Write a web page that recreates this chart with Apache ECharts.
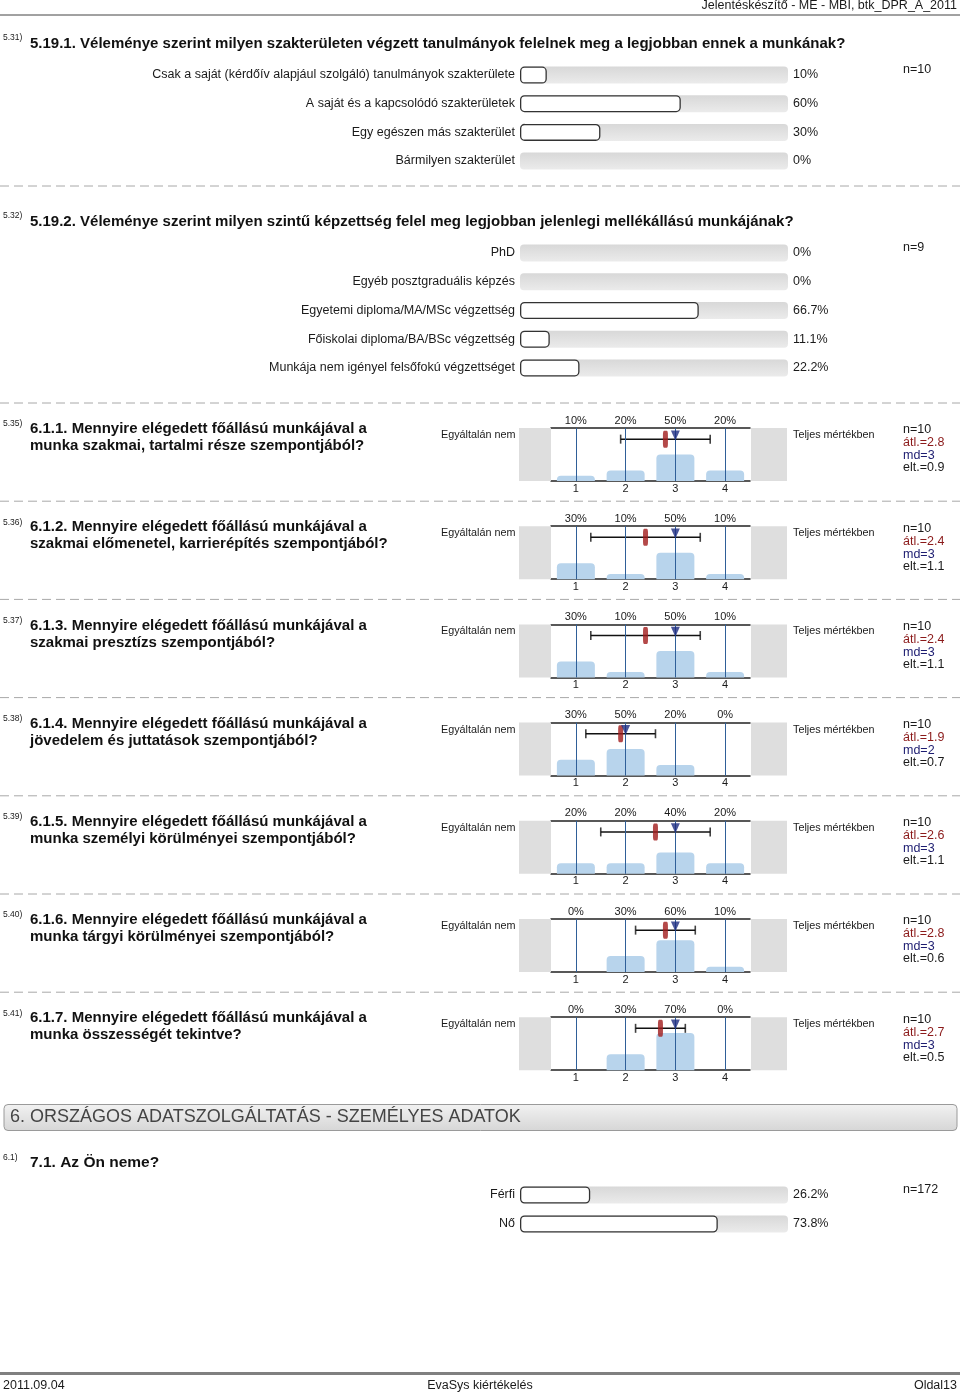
<!DOCTYPE html>
<html><head><meta charset="utf-8">
<script src="https://cdn.jsdelivr.net/npm/echarts@6/dist/echarts.min.js"></script>
<style>html,body{margin:0;padding:0;background:#fff}#c{width:960px;height:1395px}</style>
</head><body><div id="c"></div>
<script>
// ---------- DATA ----------
const q531Cats = ['Csak a saját (kérdőív alapjául szolgáló) tanulmányok szakterülete','A saját és a kapcsolódó szakterületek','Egy egészen más szakterület','Bármilyen szakterület'];
const q531Vals = [10, 60, 30, 0];
const q531N = 'n=10';
const q532Cats = ['PhD','Egyéb posztgraduális képzés','Egyetemi diploma/MA/MSc végzettség','Főiskolai diploma/BA/BSc végzettség','Munkája nem igényel felsőfokú végzettséget'];
const q532Vals = [0, 0, 66.7, 11.1, 22.2];
const q532N = 'n=9';
const q71Cats = ['Férfi','Nő'];
const q71Vals = [26.2, 73.8];
const q71N = 'n=172';

const histScale = ['1','2','3','4'];
const histIds = ['5.35)','5.36)','5.37)','5.38)','5.39)','5.40)','5.41)'];
const histTitles = [
  ['6.1.1. Mennyire elégedett főállású munkájával a','munka szakmai, tartalmi része szempontjából?'],
  ['6.1.2. Mennyire elégedett főállású munkájával a','szakmai előmenetel, karrierépítés szempontjából?'],
  ['6.1.3. Mennyire elégedett főállású munkájával a','szakmai presztízs szempontjából?'],
  ['6.1.4. Mennyire elégedett főállású munkájával a','jövedelem és juttatások szempontjából?'],
  ['6.1.5. Mennyire elégedett főállású munkájával a','munka személyi körülményei szempontjából?'],
  ['6.1.6. Mennyire elégedett főállású munkájával a','munka tárgyi körülményei szempontjából?'],
  ['6.1.7. Mennyire elégedett főállású munkájával a','munka összességét tekintve?']
];
const histVals = [
  [10,20,50,20],
  [30,10,50,10],
  [30,10,50,10],
  [30,50,20,0],
  [20,20,40,20],
  [0,30,60,10],
  [0,30,70,0]
];
const histN = [10,10,10,10,10,10,10];
const histMean = [2.8,2.4,2.4,1.9,2.6,2.8,2.7];
const histMedian = [3,3,3,2,3,3,3];
const histSd = [0.9,1.1,1.1,0.7,1.1,0.6,0.5];
const histLeftLabel = 'Egyáltalán nem';
const histRightLabel = 'Teljes mértékben';

// ---------- BUILD ----------
const FONT = '"Liberation Sans", Arial, Helvetica, sans-serif';
const NARROW = '"Liberation Sans Narrow", "Arial Narrow", "Liberation Sans", sans-serif';
const grids = [], xAxes = [], yAxes = [], series = [], graphics = [];

function txt(x, y, s, size, opt) {
  opt = opt || {};
  const al = opt.align || 'left';
  graphics.push({type: 'text', x: x, y: y, silent: true, z: 10, style: {
    text: s, fontSize: size, fontFamily: opt.family || FONT, fontWeight: opt.weight || 'normal',
    fill: opt.fill || '#1a1a1a',
    textAlign: al, align: al, textVerticalAlign: 'middle', verticalAlign: 'middle'
  }});
}
function hline(x1, x2, y, color, w, dash) {
  graphics.push({type: 'line', silent: true, z: 5, shape: {x1: x1, y1: y, x2: x2, y2: y},
    style: {stroke: color, lineWidth: w, lineDash: dash || null}});
}
function rect(x, y, w, h, fill, r, stroke) {
  graphics.push({type: 'rect', silent: true, z: 1, shape: {x: x, y: y, width: w, height: h, r: r || 0},
    style: {fill: fill, stroke: stroke || null, lineWidth: stroke ? 1 : 0}});
}
function pct(v) { return v + '%'; }

function barBlock(cats, vals, top, rowH) {
  const gi = grids.length;
  grids.push({left: 520, width: 268, top: top, height: rowH * cats.length});
  const xi = xAxes.length;
  xAxes.push({gridIndex: gi, type: 'value', min: 0, max: 100, show: false});
  const yi = yAxes.length;
  const lab = {fontSize: 12.5, color: '#1a1a1a', margin: 5, fontFamily: FONT};
  yAxes.push({gridIndex: gi, type: 'category', inverse: true, data: cats,
    axisLine: {show: false}, axisTick: {show: false}, axisLabel: lab});
  yAxes.push({gridIndex: gi, type: 'category', inverse: true, position: 'right', data: vals.map(pct),
    axisLine: {show: false}, axisTick: {show: false}, axisLabel: Object.assign({}, lab, {margin: 5})});
  series.push({type: 'bar', xAxisIndex: xi, yAxisIndex: yi, barWidth: 17, silent: true, animation: false,
    data: vals.map(v => ({value: v, itemStyle: v === 0 ? {opacity: 0} : {}})),
    itemStyle: {color: '#ffffff', borderColor: '#333', borderWidth: 1.3, borderRadius: 4},
    showBackground: true,
    backgroundStyle: {color: {type: 'linear', x: 0, y: 0, x2: 0, y2: 1, colorStops: [{offset: 0, color: '#d8d8d8'}, {offset: 1, color: '#ebebeb'}]}, borderRadius: 4}
  });
}

function histBlock(k) {
  const off = k * 98.2;
  const top = 428 + off;
  const gi = grids.length;
  grids.push({left: 551, width: 199, top: top, height: 53});
  const xb = xAxes.length;
  const axLine = {lineStyle: {color: '#222', width: 1.5}};
  xAxes.push({gridIndex: gi, type: 'category', data: histScale, position: 'bottom',
    axisLine: axLine, axisTick: {show: false}, axisLabel: {fontSize: 11, color: '#1a1a1a', margin: 2, fontFamily: FONT}});
  xAxes.push({gridIndex: gi, type: 'category', data: histVals[k].map(pct), position: 'top',
    axisLine: axLine, axisTick: {show: false}, axisLabel: {fontSize: 11, color: '#1a1a1a', margin: 2, fontFamily: FONT}});
  xAxes.push({gridIndex: gi, type: 'value', min: 0.5, max: 4.5, show: false});
  const yi = yAxes.length;
  yAxes.push({gridIndex: gi, type: 'value', min: 0, max: 100, show: false});
  series.push({type: 'bar', xAxisIndex: xb, yAxisIndex: yi, barWidth: 38, silent: true, animation: false, z: 2,
    data: histVals[k], itemStyle: {color: '#b8d4ec', borderRadius: [4, 4, 0, 0]}});
  const m = histMean[k], sd = histSd[k];
  const ov = {xAxisIndex: xb + 2, yAxisIndex: yi, silent: true, animation: false};
  // vertical guide lines at each scale point
  series.push(Object.assign({type: 'scatter', z: 3, data: [], symbolSize: 0,
    markLine: {silent: true, animation: false, symbol: ['none', 'none'], label: {show: false},
      lineStyle: {color: '#2f5f98', width: 1, type: 'solid'},
      data: histScale.map(s => ({xAxis: Number(s)}))}}, ov));
  series.push(Object.assign({type: 'line', z: 4, symbol: 'none', data: [[m - sd, 79], [m + sd, 79]],
    lineStyle: {color: '#111', width: 1.5}}, ov));
  series.push(Object.assign({type: 'scatter', z: 4, symbol: 'rect', symbolSize: [1.6, 9],
    itemStyle: {color: '#111'}, data: [[m - sd, 79], [m + sd, 79]]}, ov));
  series.push(Object.assign({type: 'scatter', z: 5, symbol: 'roundRect', symbolSize: [5, 17],
    itemStyle: {color: '#a11c1c'}, data: [[m, 79]]}, ov));
  series.push(Object.assign({type: 'scatter', z: 6, symbol: 'triangle', symbolRotate: 180, symbolSize: [9, 10],
    itemStyle: {color: '#1c2a80'}, data: [[histMedian[k], 86]]}, ov));

  // decorations
  hline(0, 960, 403 + off, '#a8a8a8', 1, [9, 5]);
  txt(3, 424 + off, histIds[k], 8.5);
  txt(30, 429 + off, histTitles[k][0], 15, {weight: 'bold', fill: '#111'});
  txt(30, 446 + off, histTitles[k][1], 15, {weight: 'bold', fill: '#111'});
  txt(441, 435 + off, histLeftLabel, 10.8);
  rect(519, top, 32, 53, '#dedede');
  rect(751, top, 36, 53, '#dedede');
  txt(793, 435 + off, histRightLabel, 10.8);
  txt(903, 430 + off, 'n=' + histN[k], 12.5);
  txt(903, 443 + off, 'átl.=' + histMean[k], 12.5, {fill: '#8b1a1a'});
  txt(903, 456 + off, 'md=' + histMedian[k], 12.5, {fill: '#1c1c70'});
  txt(903, 468 + off, 'elt.=' + histSd[k], 12.5);
}

// header
txt(957, 6, 'Jelentéskészítő - ME - MBI, btk_DPR_A_2011', 12.5, {align: 'right'});
hline(0, 960, 15, '#444', 1);

// 5.31
txt(3, 38, '5.31)', 8.5);
txt(30, 44, '5.19.1. Véleménye szerint milyen szakterületen végzett tanulmányok felelnek meg a legjobban ennek a munkának?', 15, {weight: 'bold', fill: '#111'});
barBlock(q531Cats, q531Vals, 60.7, 28.67);
txt(903, 70, q531N, 12.5);
hline(0, 960, 186, '#a8a8a8', 1, [9, 5]);

// 5.32
txt(3, 216, '5.32)', 8.5);
txt(30, 222, '5.19.2. Véleménye szerint milyen szintű képzettség felel meg legjobban jelenlegi mellékállású munkájának?', 15, {weight: 'bold', fill: '#111'});
barBlock(q532Cats, q532Vals, 238.6, 28.75);
txt(903, 248, q532N, 12.5);

// histogram blocks
for (let k = 0; k < histVals.length; k++) histBlock(k);

// section 6 header
graphics.push({type: 'rect', silent: true, z: 1, shape: {x: 4, y: 1104.5, width: 953, height: 26, r: 4},
  style: {fill: {type: 'linear', x: 0, y: 0, x2: 0, y2: 1, colorStops: [{offset: 0, color: '#f2f2f2'}, {offset: 1, color: '#d6d6d6'}]}, stroke: '#9a9a9a', lineWidth: 1}});
txt(10, 1117.5, '6. ORSZÁGOS ADATSZOLGÁLTATÁS - SZEMÉLYES ADATOK', 18, {family: NARROW, fill: '#444'});

// 7.1
txt(3, 1158, '6.1)', 8.5, {family: NARROW});
txt(30, 1163, '7.1. Az Ön neme?', 15.5, {weight: 'bold', family: NARROW, fill: '#111'});
barBlock(q71Cats, q71Vals, 1180.5, 29);
txt(903, 1190, q71N, 12.5);

// footer
hline(0, 960, 1373.5, '#808080', 3);
txt(3, 1386, '2011.09.04', 12.5, {family: NARROW});
txt(480, 1386, 'EvaSys kiértékelés', 12.5, {family: NARROW, align: 'center'});
txt(957, 1386, 'Oldal13', 12.5, {family: NARROW, align: 'right'});

const chart = echarts.init(document.getElementById('c'), null, {renderer: 'canvas'});
chart.setOption({
  animation: false,
  backgroundColor: '#ffffff',
  textStyle: {fontFamily: FONT},
  grid: grids, xAxis: xAxes, yAxis: yAxes, series: series, graphic: graphics
});
</script></body></html>
